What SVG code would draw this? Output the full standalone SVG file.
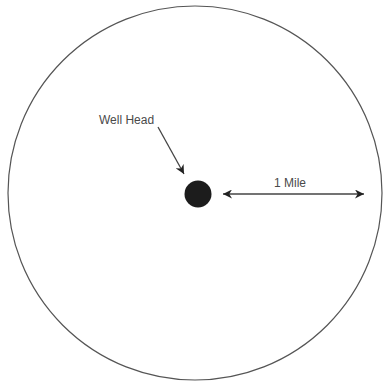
<svg xmlns="http://www.w3.org/2000/svg" width="383" height="383" viewBox="0 0 383 383">
<style>
.lbl{font-family:"Liberation Sans",Arial,sans-serif;font-size:12px;fill:#4a4a4a}
.ln{stroke:#444;stroke-width:1.3;fill:none}
</style>
<defs>
<marker id="ah" viewBox="0 0 10 10" refX="10" refY="5" markerWidth="9" markerHeight="9" markerUnits="userSpaceOnUse" orient="auto-start-reverse">
<path d="M0,0 L10,5 L0,10 L3,5 z" fill="#222"/>
</marker>
</defs>
<rect width="383" height="383" fill="#fff"/>
<g id="boundary"><circle cx="195" cy="193" r="187" fill="none" stroke="#555" stroke-width="1.2"/></g>
<g id="wellhead"><circle cx="198" cy="194" r="13.5" fill="#1c1c1c"/></g>
<g id="label-wellhead"><text class="lbl" x="99" y="124">Well Head</text></g>
<g id="label-mile"><text class="lbl" x="274" y="187">1 Mile</text></g>
<g id="connectors">
<line class="ln" x1="158" y1="127" x2="184" y2="174" marker-end="url(#ah)"/>
<line class="ln" x1="223" y1="194" x2="364" y2="194" marker-start="url(#ah)" marker-end="url(#ah)"/>
</g>
</svg>
